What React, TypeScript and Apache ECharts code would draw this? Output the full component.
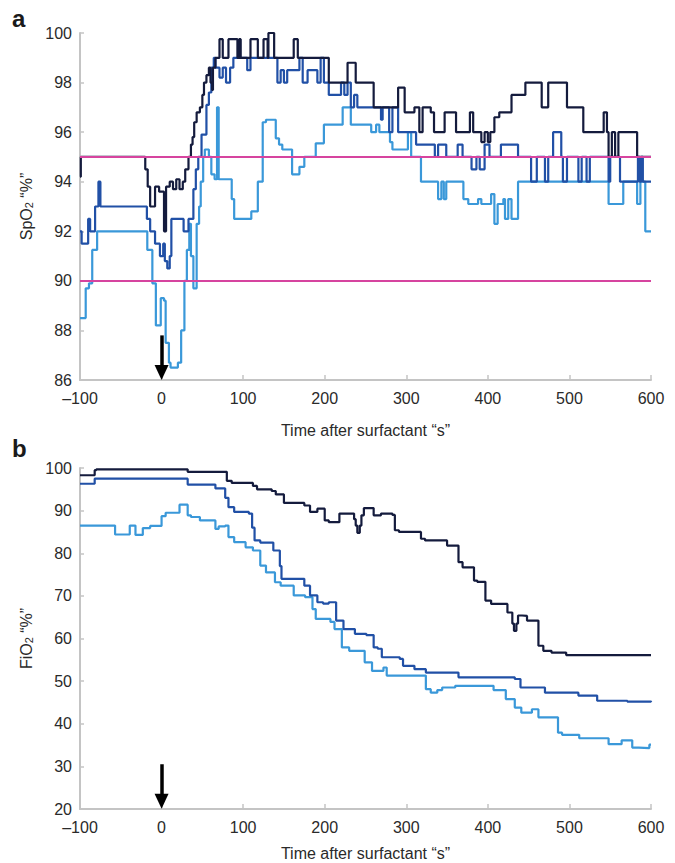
import React, { useEffect, useRef } from "react";
import * as echarts from "echarts";

// ---- Panel a: SpO2 (%) vs time after surfactant (s) — step series [time, value]
const spo2Light: [number, number][] = [
  [-100, 88.5], [-93, 89.7], [-89, 89.9], [-85, 91.25], [-79, 92.0], [-17.5, 91.25], [-11.3, 89.9],
  [-7, 88.2], [-1, 89.3], [3, 89.2], [5, 87.5], [9, 86.7], [11, 86.5], [20, 86.7], [24, 88.0],
  [28, 90.0], [31, 91.25], [34, 92.3], [36, 91.0], [39, 89.7], [43, 92.3], [46, 93.0], [48, 94.0],
  [51, 95.0], [53, 95.3], [58, 95.0], [61, 94.3], [65, 94.1], [68, 97.0], [70, 94.1], [86, 93.3],
  [89, 92.5], [110, 92.8], [118, 94.0], [124, 96.4], [128, 96.5], [140, 95.75], [144, 95.5],
  [148, 95.3], [160, 94.3], [169, 94.6], [175, 95.0], [189, 95.55], [199, 96.3], [222, 97.0],
  [232, 96.3], [257, 96.0], [263, 96.3], [267, 96.0], [280, 95.6], [283, 95.3], [302, 96.0],
  [306, 95.0], [318, 94.0], [339, 93.3], [343, 94.0], [346, 93.3], [349, 94.0], [370, 93.3],
  [376, 93.1], [388, 93.3], [392, 93.1], [404, 93.5], [408, 92.3], [412, 93.1], [419, 93.3],
  [421, 92.5], [425, 93.3], [429, 92.5], [437, 94.0], [548, 93.1], [566, 94.0], [583, 93.1],
  [587, 94.0], [593, 92.0], [600, 92.0],
];
const spo2Mid: [number, number][] = [
  [-100, 92.0], [-98, 91.5], [-94, 91.5], [-90, 92.5], [-87.6, 92.0], [-81.5, 93.0], [-77.4, 94.0],
  [-75, 93.0], [-18, 92.5], [-14, 92.0], [-8, 91.5], [-2, 91.0], [2, 91.5], [4, 90.8], [7, 90.5],
  [10, 91.0], [12, 92.5], [27, 92.0], [33, 92.5], [39, 93.7], [42, 94.5], [45, 95.0], [49, 95.9],
  [55, 97.1], [58, 97.6], [61, 98.6], [64, 99.0], [66, 98.6], [71, 98.2], [75, 98.6], [79, 98.0],
  [84, 98.6], [88, 99.0], [105, 98.5], [109, 99.0], [142, 98.0], [146, 98.5], [150, 98.0],
  [154, 98.5], [169, 99.0], [173, 98.0], [179, 98.5], [191, 98.0], [195, 99.0], [199, 98.0],
  [205, 97.5], [220, 98.0], [224, 97.5], [228, 98.0], [232, 97.0], [236, 97.5], [240, 97.0],
  [269, 96.5], [271, 97.0], [279, 96.0], [283, 97.0], [290, 96.0], [312, 95.5], [335, 95.0],
  [339, 95.5], [349, 95.0], [363, 95.5], [369, 95.0], [380, 94.5], [386, 95.0], [390, 94.5],
  [396, 95.5], [402, 95.0], [416, 95.5], [437, 95.0], [453, 94.0], [460, 95.0], [470, 94.0],
  [474, 95.0], [480, 96.0], [490, 95.0], [492, 94.0], [497, 95.0], [511, 94.0], [515, 95.0],
  [521, 94.0], [525, 95.0], [548, 94.0], [550, 95.0], [562, 94.0], [584, 95.0], [586, 94.0],
  [588, 95.0], [590, 94.0], [600, 94.0],
];
const spo2Dark: [number, number][] = [
  [-100, 94.2], [-99, 95.0], [-20, 94.5], [-17, 93.8], [-14, 93.0], [-8, 93.8], [-3, 93.6],
  [3, 92.0], [5.5, 93.8], [10, 94.0], [14, 93.7], [18, 94.1], [22, 93.7], [26, 94.0], [29, 94.5],
  [33, 95.0], [36, 95.5], [38, 95.8], [40, 96.4], [43, 96.8], [47, 97.0], [50, 97.5], [52, 98.0],
  [55, 98.3], [58, 98.6], [60, 98.0], [62, 97.7], [63, 98.6], [66, 99.0], [71, 99.75], [75, 99.0],
  [82, 99.75], [93, 99.0], [95, 99.75], [97, 99.0], [109, 99.75], [118, 99.0], [125, 99.75],
  [130, 99.0], [131, 100], [138, 99.0], [162, 99.75], [167, 99.0], [205, 98.0], [228, 98.8],
  [238, 98.0], [260, 97.0], [290, 97.8], [298, 96.8], [310, 97.0], [316, 96.0], [320, 97.0],
  [330, 96.8], [334, 96.0], [347, 96.8], [361, 96.0], [378, 96.8], [382, 96.0], [392, 95.6],
  [396, 96.0], [400, 95.6], [403, 96.0], [408, 96.6], [414, 96.8], [429, 97.5], [446, 98.0],
  [466, 97.0], [474, 98.0], [497, 97.0], [517, 96.0], [542, 96.8], [546, 96.0], [548, 95.0],
  [552, 96.0], [556, 95.0], [560, 96.0], [583, 95.0], [600, 95.0],
];
const spo2Limits = [95, 90];

// ---- Panel b: FiO2 (%) vs time after surfactant (s)
const fio2Light: [number, number][] = [
  [-100, 86.5], [-57, 84.4], [-39, 86.5], [-32, 84.3], [-23, 85.9], [-14, 86.4], [0, 88.7],
  [5, 89.5], [22, 91.4], [32, 88.9], [36, 88.5], [47, 87.7], [66, 85.7], [70, 86.3], [78, 86.5],
  [82, 83.8], [89, 82.6], [103, 81.4], [112, 80.65], [121, 77.1], [128, 75.5], [139, 73.2],
  [146, 72.4], [162, 70.1], [176, 69.7], [185, 66.9], [189, 64.6], [207, 63.9], [212, 62.2],
  [221, 57.9], [230, 57.1], [249, 54.4], [258, 52.4], [272, 53.2], [276, 51.3], [324, 48.1],
  [330, 47.3], [338, 47.9], [344, 48.5], [360, 48.9], [407, 47.9], [422, 45.8], [433, 43.8],
  [441, 42.6], [454, 43.4], [462, 41.5], [486, 37.9], [491, 37.4], [512, 36.6], [548, 35.2],
  [564, 36.1], [577, 34.4], [585, 34.3], [598, 35.1], [600, 35.1],
];
const fio2Mid: [number, number][] = [
  [-100, 96.3], [-82, 97.5], [32, 96.1], [66, 95.2], [78, 93.0], [82, 90.8], [89, 89.7],
  [107, 89.3], [111, 86.0], [114, 83.0], [121, 82.5], [137, 80.65], [145, 77.0], [147, 74.0],
  [175, 72.4], [182, 70.1], [191, 68.5], [198, 68.2], [205, 68.5], [214, 64.2], [223, 62.2],
  [237, 61.1], [251, 60.8], [260, 57.9], [265, 57.6], [270, 55.6], [292, 55.2], [296, 53.6],
  [310, 52.8], [324, 52.0], [364, 50.9], [433, 50.5], [440, 48.5], [470, 47.3], [511, 46.6],
  [534, 45.4], [571, 45.2], [600, 45.4],
];
const fio2Dark: [number, number][] = [
  [-100, 98.3], [-82, 99.5], [-80, 99.7], [32, 99.1], [80, 97.0], [86, 96.5], [112, 95.8],
  [117, 95.0], [135, 94.6], [140, 93.8], [150, 91.8], [175, 91.2], [182, 89.7], [191, 90.45],
  [200, 87.7], [205, 87.3], [218, 89.3], [236, 88.0], [238, 86.5], [240, 84.8], [243, 86.5],
  [245, 88.9], [248, 90.6], [260, 88.9], [269, 89.3], [283, 89.0], [286, 85.4], [291, 85.0],
  [318, 83.4], [323, 83.0], [350, 81.8], [364, 77.9], [369, 76.7], [383, 73.6], [387, 73.3],
  [397, 68.9], [404, 68.1], [424, 66.1], [430, 63.5], [432, 61.8], [435, 63.5], [437, 65.4],
  [442, 65.3], [448, 64.2], [462, 58.3], [468, 57.1], [478, 56.7], [496, 56.1], [600, 56.2],
];

// Surfactant administration marker (time 0)
const surfactantTime = 0;

const COLOR_DARK = "#141b3d";
const COLOR_MID = "#2150a6";
const COLOR_LIGHT = "#3a98d9";
const COLOR_LIMIT = "#d6449f";
const FONT = "'Liberation Sans', Arial, Helvetica, sans-serif";
const TEXT = "#2a2a2a";
const AXIS = "#c4c4c4";

function stepSeries(data: [number, number][], color: string, axisIndex: number, extra: any = {}) {
  return {
    type: "line",
    xAxisIndex: axisIndex,
    yAxisIndex: axisIndex,
    data,
    step: "end",
    symbol: "none",
    showSymbol: false,
    silent: true,
    lineStyle: { color, width: 2.2 },
    ...extra,
  };
}

function arrowMark(yFrom: number, yTo: number) {
  return {
    silent: true,
    symbol: ["none", "triangle"],
    symbolSize: [14, 15],
    label: { show: false },
    lineStyle: { color: "#000", width: 3.5, type: "solid" },
    itemStyle: { color: "#000" },
    data: [[{ coord: [surfactantTime, yFrom] }, { coord: [surfactantTime, yTo] }]],
  };
}

export default function App() {
  const ref = useRef<HTMLDivElement>(null);
  useEffect(() => {
    if (!ref.current) return;
    const chart = echarts.init(ref.current, null, { renderer: "svg" });
    const xAxisBase = (gridIndex: number, nameGap: number) => ({
      type: "value",
      gridIndex,
      min: -100,
      max: 600,
      interval: 100,
      name: "Time after surfactant \u201cs\u201d",
      nameLocation: "middle",
      nameGap,
      nameTextStyle: { fontSize: 16, color: TEXT, fontFamily: FONT },
      axisLine: { show: true, onZero: false, lineStyle: { color: AXIS, width: 2 } },
      axisTick: { show: true, inside: true, length: 5, lineStyle: { color: AXIS, width: 1.5 } },
      splitLine: { show: false },
      axisLabel: {
        fontSize: 16,
        color: TEXT,
        fontFamily: FONT,
        margin: 10,
        formatter: (v: number) => String(v).replace("-", "\u2013"),
      },
    });
    const yAxisBase = (gridIndex: number, min: number, max: number, interval: number, label: string) => ({
      type: "value",
      gridIndex,
      min,
      max,
      interval,
      name: `{n|${label}O}{s|2}{n| \u201c%\u201d}`,
      nameLocation: "middle",
      nameRotate: 90,
      nameGap: 44,
      nameTextStyle: {
        fontFamily: FONT,
        color: TEXT,
        rich: {
          n: { fontSize: 16, fontFamily: FONT, color: TEXT, verticalAlign: "bottom", lineHeight: 20 },
          s: { fontSize: 11, fontFamily: FONT, color: TEXT, verticalAlign: "bottom", lineHeight: 14 },
        },
      },
      axisLine: { show: true, onZero: false, lineStyle: { color: AXIS, width: 2 } },
      axisTick: { show: true, inside: true, length: 4, lineStyle: { color: AXIS, width: 1.5 } },
      splitLine: { show: false },
      axisLabel: { fontSize: 16, color: TEXT, fontFamily: FONT, margin: 8 },
    });
    chart.setOption({
      animation: false,
      grid: [
        { left: 80, right: 24, top: 33, height: 347 },
        { left: 80, right: 24, top: 468, height: 341 },
      ],
      xAxis: [xAxisBase(0, 42), xAxisBase(1, 36)],
      yAxis: [yAxisBase(0, 86, 100, 2, "Sp"), yAxisBase(1, 20, 100, 10, "Fi")],
      graphic: [
        { type: "text", left: 12, top: 6, style: { text: "a", fontSize: 24, fontWeight: "bold", fill: "#1a1a1a", fontFamily: FONT } },
        { type: "text", left: 12, top: 436, style: { text: "b", fontSize: 24, fontWeight: "bold", fill: "#1a1a1a", fontFamily: FONT } },
      ],
      series: [
        stepSeries(spo2Light, COLOR_LIGHT, 0, { markLine: arrowMark(87.8, 86.3) }),
        stepSeries(spo2Mid, COLOR_MID, 0),
        stepSeries(spo2Dark, COLOR_DARK, 0, {
          markLine: {
            silent: true,
            symbol: ["none", "none"],
            label: { show: false },
            lineStyle: { color: COLOR_LIMIT, width: 2, type: "solid" },
            data: spo2Limits.map((v) => ({ yAxis: v })),
          },
        }),
        stepSeries(fio2Light, COLOR_LIGHT, 1, { markLine: arrowMark(30.5, 21.8) }),
        stepSeries(fio2Mid, COLOR_MID, 1),
        stepSeries(fio2Dark, COLOR_DARK, 1),
      ],
    });
    return () => chart.dispose();
  }, []);
  return (
    <div
      ref={ref}
      style={{ position: "absolute", left: 0, top: 0, width: 675, height: 863, background: "#fff" }}
    />
  );
}
